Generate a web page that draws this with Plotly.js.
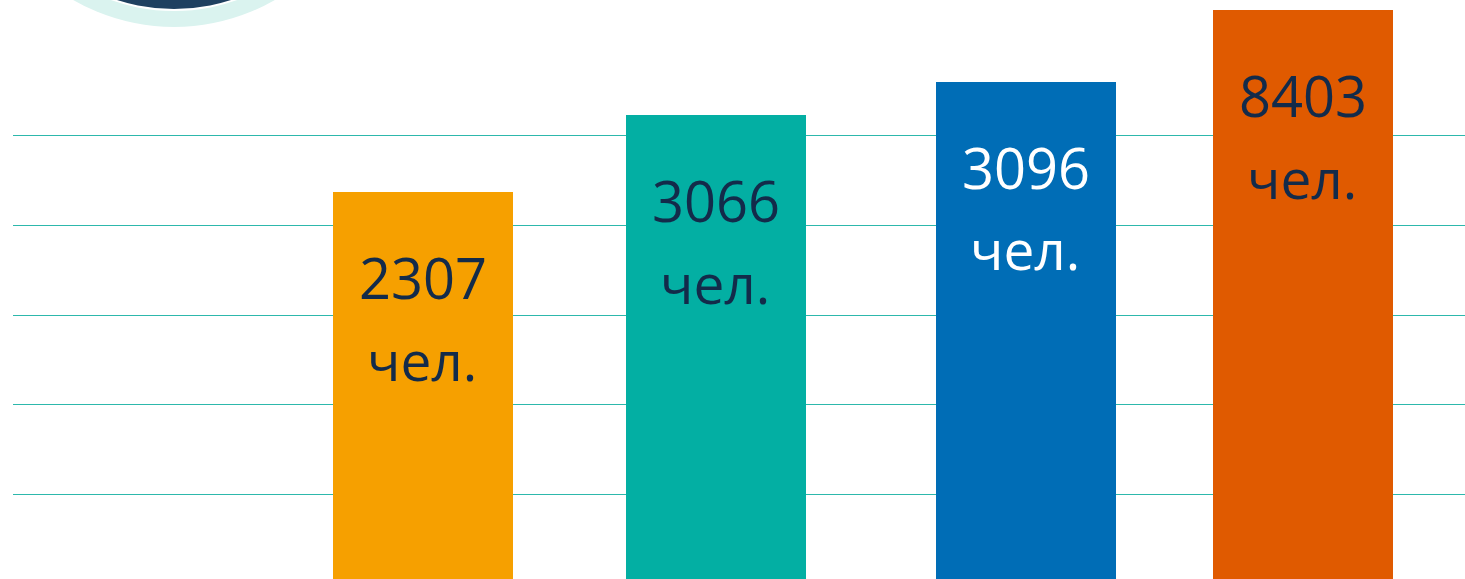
<!DOCTYPE html>
<html><head><meta charset="utf-8">
<script src="https://cdn.plot.ly/plotly-3.0.1.min.js"></script>
<style>html,body{margin:0;padding:0;background:#fff;overflow:hidden}#c{width:1465px;height:579px}</style>
</head><body><div id="c"></div>
<script>
const labels = ['2307','3066','3096','8403'];
const unitLabel = 'чел.';
const barHeights = [4372,5230,5599,6401];
const barCenters = [423,716,1026,1303];
const gridValues = [1000,2000,3000,4000,5000];
const barColors = ['#F6A000','#03AFA3','#006DB6','#E05A00'];
const textColors = ['#132B4A','#132B4A','#FFFFFF','#132B4A'];
const W=1465,H=579;
const font='"Open Sans", sans-serif';
const annotations=[];
labels.forEach((t,i)=>{
  annotations.push({x:barCenters[i],y:barHeights[i],xref:'x',yref:'y',text:t,showarrow:false,yshift:-85,yanchor:'middle',xanchor:'center',font:{family:font,size:56,color:textColors[i]}});
  annotations.push({x:barCenters[i]-1,y:barHeights[i],xref:'x',yref:'y',text:unitLabel,showarrow:false,yshift:-167,yanchor:'middle',xanchor:'center',font:{family:font,size:55,color:textColors[i]}});
});
function circle(cx,cy,r,color){
  return {type:'circle',xref:'paper',yref:'paper',x0:(cx-r-13)/(W-13),x1:(cx+r-13)/(W-13),y0:1-(cy+r)/H,y1:1-(cy-r)/H,fillcolor:color,line:{width:0},layer:'above'};
}
Plotly.newPlot('c',[{type:'bar',x:barCenters,y:barHeights,width:180,marker:{color:barColors,line:{width:0}},hoverinfo:'skip'}],{
  width:W,height:H,margin:{l:13,r:0,t:0,b:0},paper_bgcolor:'#fff',plot_bgcolor:'#fff',showlegend:false,
  xaxis:{range:[13,1465],showgrid:false,zeroline:false,showticklabels:false,ticks:''},
  yaxis:{range:[58,6513],tickmode:'array',tickvals:gridValues,showgrid:true,gridcolor:'#2DB8AC',gridwidth:1,zeroline:false,showticklabels:false,ticks:''},
  annotations,
  shapes:[circle(174,-175,202,'#DAF3EF'),circle(174,-176,187,'#FFFFFF'),circle(174,-176,185,'#1F4060')]
},{staticPlot:true,displayModeBar:false});
</script></body></html>
